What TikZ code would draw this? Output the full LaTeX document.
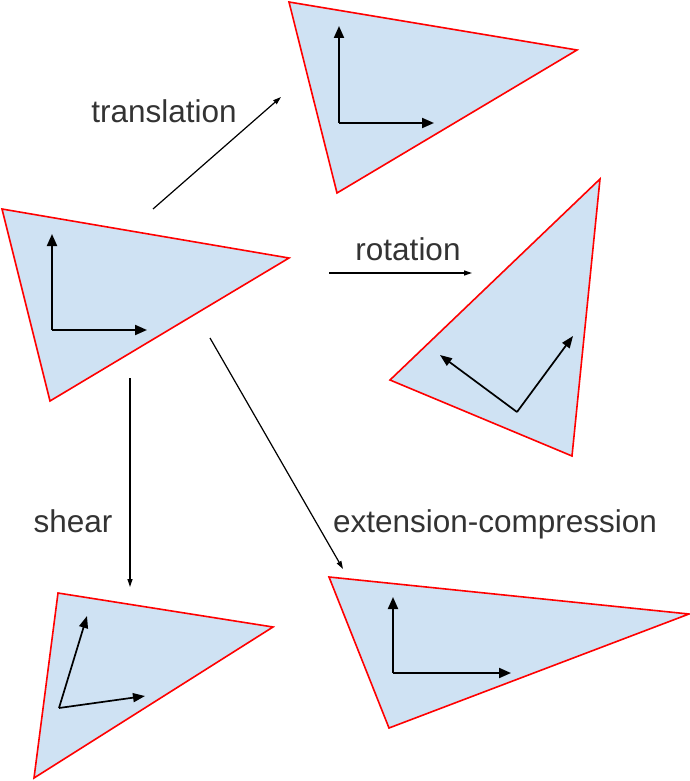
\documentclass[tikz,border=0pt]{standalone}
\usepackage{fontspec}
\setmainfont{Liberation Sans}
\usepackage{tikz}
\usetikzlibrary{arrows.meta,positioning}
\definecolor{triblue}{HTML}{CFE2F3}
\definecolor{labgray}{HTML}{333333}

\begin{document}
\begin{tikzpicture}[x=1pt, y=-1pt,
  tri/.style={fill=triblue, draw=red, line width=1.6pt},
  axis/.style={line width=2pt, -{Triangle[length=12pt,width=10pt]}},
  thinaxis/.style={line width=1.7pt, -{Triangle[length=12pt,width=9pt]}},
  move/.style={line width=1.2pt, -{Triangle[length=8pt,width=5pt]}},
  every node/.style={font=\fontsize{31.5}{37}\selectfont, text=labgray,
    anchor=base, inner sep=0pt}]

  \useasboundingbox (0,0) rectangle (690,781);

  % original
  \draw[tri] (2,209) -- (289,258) -- (50,401) -- cycle;
  \coordinate (o0) at (52,330);
  \draw[axis] (o0) -- (52,234);
  \draw[axis] (o0) -- (147,330);

  % translation
  \draw[tri] (289,2) -- (577,50) -- (337,193) -- cycle;
  \coordinate (o1) at (339,123);
  \draw[axis] (o1) -- (339,26);
  \draw[axis] (o1) -- (434,123);

  % rotation
  \draw[tri] (600,179) -- (572,456) -- (390,380) -- cycle;
  \coordinate (o2) at (517,412);
  \draw[thinaxis] (o2) -- (440,355);
  \draw[thinaxis] (o2) -- (573,336);

  % shear
  \draw[tri] (58,593) -- (273,627) -- (34,778) -- cycle;
  \coordinate (o3) at (59,708);
  \draw[thinaxis] (o3) -- (87,616);
  \draw[thinaxis] (o3) -- (145,696);

  % extension-compression
  \draw[tri] (329,577) -- (689,614) -- (389,728) -- cycle;
  \coordinate (o4) at (393,673);
  \draw[axis] (o4) -- (393,597);
  \draw[axis] (o4) -- (511,673);

  % connectors
  \coordinate (t0) at (153,209);
  \coordinate (t1) at (281,97);
  \coordinate (r0) at (329,273);
  \coordinate (r1) at (472,273);
  \coordinate (s0) at (130,378);
  \coordinate (s1) at (130,587);
  \coordinate (e0) at (210,338);
  \coordinate (e1) at (343,569);
  \draw[move] (t0) -- (t1);
  \draw[move] (r0) -- (r1);
  \draw[move] (s0) -- (s1);
  \draw[move] (e0) -- (e1);

  \node (ltrans) at (164,123) {translation};
  \node (lrot)   at (408,260) {rotation};
  \node (lshear) at (73,532)  {shear};
  \node (lext)   at (495,532) {extension-compression};

\end{tikzpicture}
\end{document}
